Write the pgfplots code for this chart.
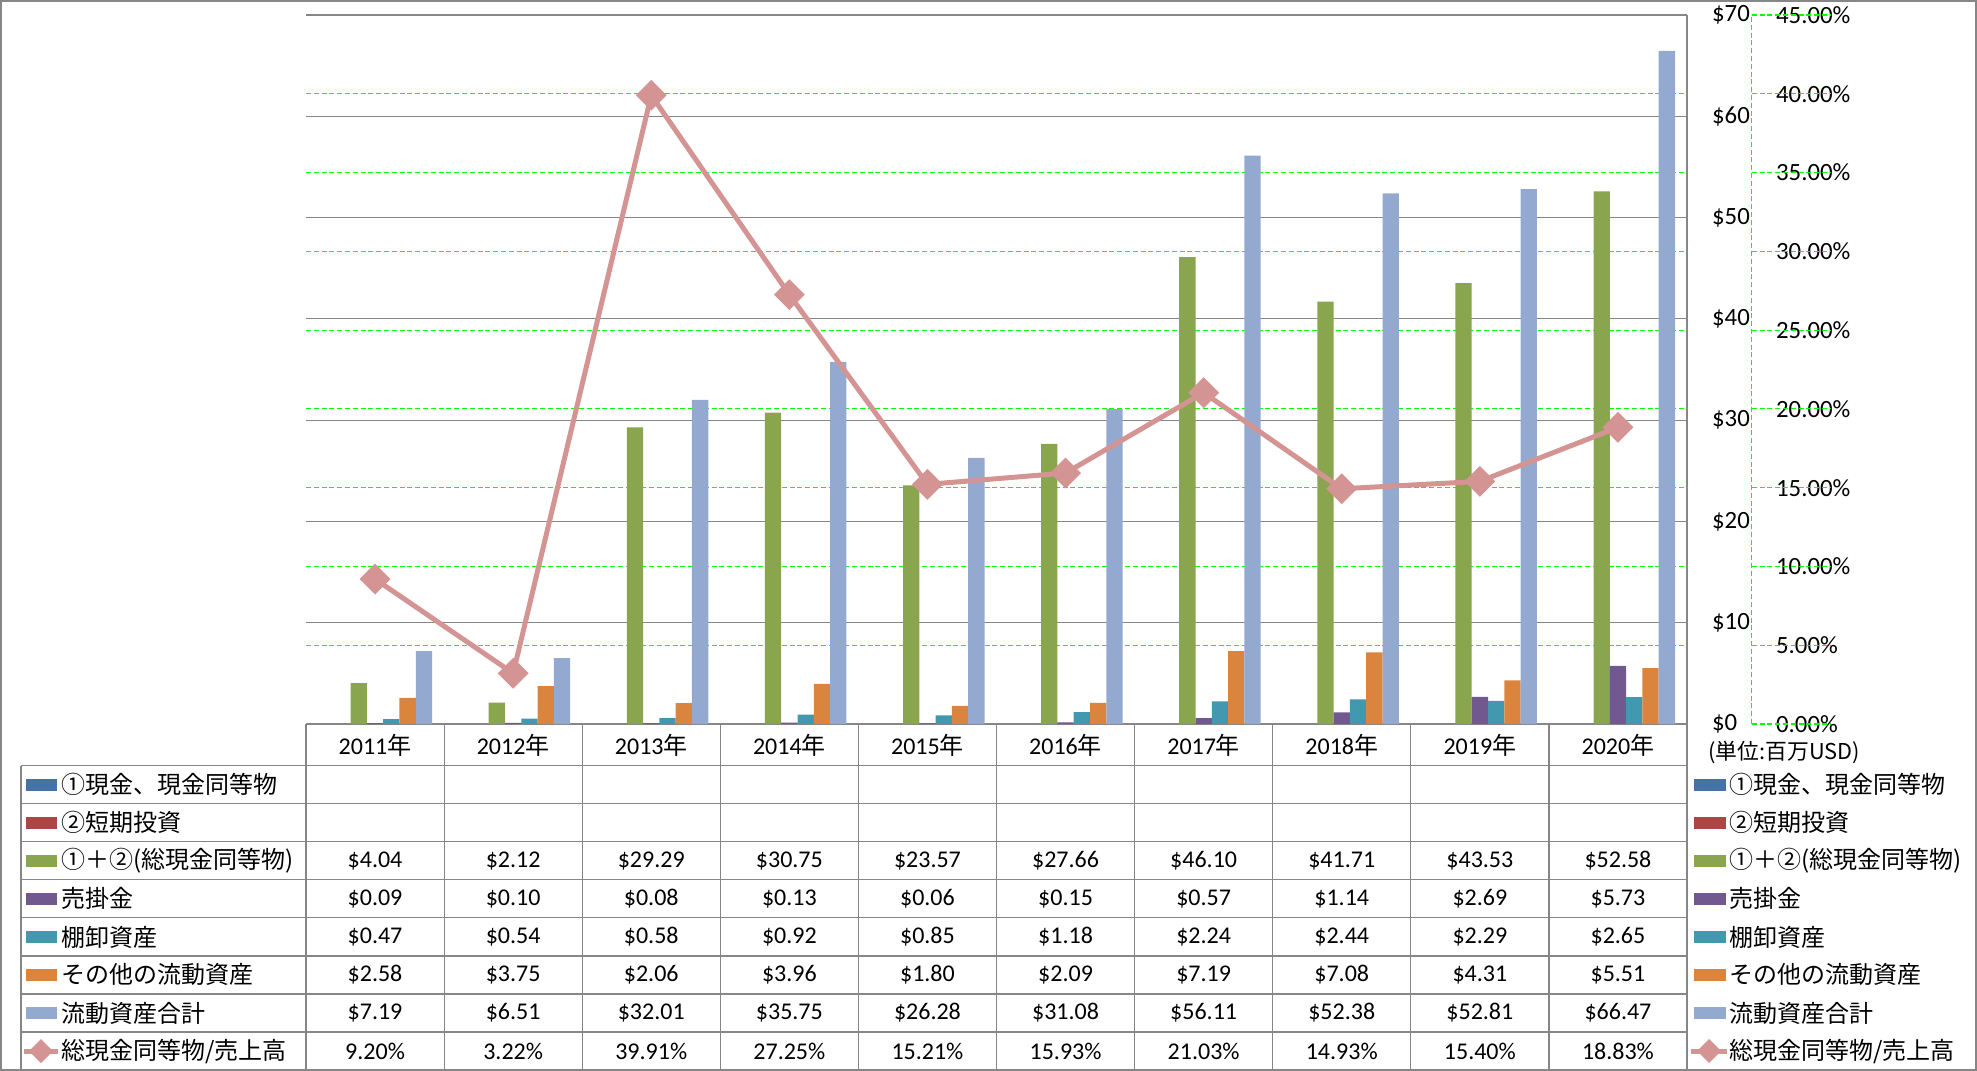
\documentclass[border=0pt]{standalone}
\usepackage{pgfplots}
\pgfplotsset{compat=1.18}
\usepackage{fontspec}
\setmainfont{Carlito}
\newfontfamily\jp{Noto Sans CJK JP}
\definecolor{cA}{HTML}{4572A7}
\definecolor{cB}{HTML}{AA4643}
\definecolor{cC}{HTML}{89A54E}
\definecolor{cD}{HTML}{71588F}
\definecolor{cE}{HTML}{4198AF}
\definecolor{cF}{HTML}{DB843D}
\definecolor{cG}{HTML}{93A9CF}
\definecolor{cL}{HTML}{D39493}
\definecolor{gridgray}{HTML}{868686}
\definecolor{dgreen}{HTML}{00FF00}
\begin{document}
\begin{tikzpicture}[font=\fontsize{12}{14}\selectfont]
% outer border
\draw[gridgray, line width=0.8pt] (0.4pt,-0.4pt) rectangle (988.1pt,-535.1pt);
\begin{axis}[
  at={(153pt,-362pt)}, anchor=south west,
  scale only axis, width=690.5pt, height=354.5pt,
  xmin=-0.5, xmax=9.5, ymin=0, ymax=70,
  axis x line*=bottom, axis y line*=right,
  axis line style={gridgray, line width=0.6pt},
  ytick={0,10,...,70}, ymajorgrids,
  major grid style={gridgray, line width=0.6pt},
  extra y ticks={7.77778,15.55556,23.33333,31.11111,38.88889,46.66667,54.44444,62.22222},
  extra y tick labels={},
  extra y tick style={grid=major, major grid style={dgreen, line width=0.6pt, dash pattern=on 2.5pt off 1.4pt}},
  yticklabel={\$\pgfmathprintnumber{\tick}},
  yticklabel style={anchor=west, inner sep=0pt, xshift=12.35pt, font=\fontsize{12.4}{14}\selectfont},
  major tick length=0pt,
  xtick={0,...,9},
  xticklabels={2011{\jp 年},2012{\jp 年},2013{\jp 年},2014{\jp 年},2015{\jp 年},2016{\jp 年},2017{\jp 年},2018{\jp 年},2019{\jp 年},2020{\jp 年}},
  xticklabel style={anchor=center, inner sep=0pt, yshift=-10.5pt, font=\fontsize{12}{14}\selectfont},
  /pgf/number format/assume math mode=true,
  bar width=0.118,
]
\addplot[ybar, fill=cC, draw=none, bar shift=-0.118] coordinates {(0,4.04) (1,2.12) (2,29.29) (3,30.75) (4,23.57) (5,27.66) (6,46.10) (7,41.71) (8,43.53) (9,52.58)};
\addplot[ybar, fill=cD, draw=none, bar shift=0] coordinates {(0,0.09) (1,0.10) (2,0.08) (3,0.13) (4,0.06) (5,0.15) (6,0.57) (7,1.14) (8,2.69) (9,5.73)};
\addplot[ybar, fill=cE, draw=none, bar shift=0.118] coordinates {(0,0.47) (1,0.54) (2,0.58) (3,0.92) (4,0.85) (5,1.18) (6,2.24) (7,2.44) (8,2.29) (9,2.65)};
\addplot[ybar, fill=cF, draw=none, bar shift=0.236] coordinates {(0,2.58) (1,3.75) (2,2.06) (3,3.96) (4,1.80) (5,2.09) (6,7.19) (7,7.08) (8,4.31) (9,5.51)};
\addplot[ybar, fill=cG, draw=none, bar shift=0.354] coordinates {(0,7.19) (1,6.51) (2,32.01) (3,35.75) (4,26.28) (5,31.08) (6,56.11) (7,52.38) (8,52.81) (9,66.47)};
\end{axis}
\begin{axis}[
  at={(153pt,-362pt)}, anchor=south west,
  scale only axis, width=690.5pt, height=354.5pt,
  xmin=-0.5, xmax=9.5, ymin=0, ymax=45,
  hide x axis, axis y line*=right, y axis line style={draw=none},
  ytick={0,5,...,45},
  yticklabel={\pgfmathprintnumber[fixed, fixed zerofill, precision=2]{\tick}\%},
  yticklabel style={anchor=west, inner sep=0pt, xshift=44.35pt, font=\fontsize{12.4}{14}\selectfont},
  major tick length=0pt,
  /pgf/number format/assume math mode=true,
  clip=false,
]
\draw[dgreen, line width=0.6pt, dash pattern=on 2.5pt off 1.4pt] ([xshift=32.35pt]rel axis cs:1,0) -- ([xshift=32.35pt]rel axis cs:1,1);
\pgfplotsinvokeforeach{0,5,10,15,20,25,30,35,40,45}{
  \draw[dgreen, line width=0.6pt, dash pattern=on 2.5pt off 1.4pt] ([xshift=32.35pt]axis cs:9.5,#1) -- ++(4.5pt,0);
}
\addplot[cL, line width=2.5pt, mark=square*, mark size=5.2pt, mark options={rotate=45, fill=cL, draw=cL, line width=0.5pt, solid}] coordinates {(0,9.20) (1,3.22) (2,39.91) (3,27.25) (4,15.21) (5,15.93) (6,21.03) (7,14.93) (8,15.40) (9,18.83)};
\end{axis}
% table lines
\draw[gridgray, line width=0.6pt] (153pt,-362pt) -- (153pt,-535pt);
\foreach \i in {1,...,9} \draw[gridgray, line width=0.6pt] ({153pt+\i*69.05pt},-362pt) -- ({153pt+\i*69.05pt},-535pt);
\draw[gridgray, line width=0.6pt] (843.5pt,-362pt) -- (843.5pt,-535pt);
\draw[gridgray, line width=0.6pt] (10.5pt,-382.85pt) -- (10.5pt,-535pt);
\foreach \k in {0,...,8} \draw[gridgray, line width=0.6pt] (10.5pt,{-382.85pt-\k*19.02pt}) -- (843.5pt,{-382.85pt-\k*19.02pt});
% unit label
\node[anchor=west, inner sep=0pt, font=\jp\fontsize{10.9}{12}\selectfont] at (854pt,-376pt) {(単位:百万USD)};
% legend keys and names (left and right)
\foreach \k/\c/\t in {0/cA/①現金、現金同等物, 1/cB/②短期投資, 2/cC/①＋②(総現金同等物), 3/cD/売掛金, 4/cE/棚卸資産, 5/cF/その他の流動資産, 6/cG/流動資産合計}{
  \fill[\c] (13pt,{-392.36pt-\k*19.02pt-2.9pt}) rectangle (28.5pt,{-392.36pt-\k*19.02pt+2.9pt});
  \node[anchor=west, inner sep=0pt, font=\jp\fontsize{12}{14}\selectfont] at (30.5pt,{-392.36pt-\k*19.02pt}) {\t};
  \fill[\c] (847pt,{-392.36pt-\k*19.02pt-2.9pt}) rectangle (863pt,{-392.36pt-\k*19.02pt+2.9pt});
  \node[anchor=west, inner sep=0pt, font=\jp\fontsize{12}{14}\selectfont] at (864.5pt,{-392.36pt-\k*19.02pt}) {\t};
}
% line legend key
\draw[cL, line width=2.5pt] (12pt,-525.5pt) -- (29pt,-525.5pt);
\fill[cL] (20.5pt,-519.5pt) -- (26.5pt,-525.5pt) -- (20.5pt,-531.5pt) -- (14.5pt,-525.5pt) -- cycle;
\node[anchor=west, inner sep=0pt, font=\jp\fontsize{12}{14}\selectfont] at (30.5pt,-525.5pt) {総現金同等物/売上高};
\draw[cL, line width=2.5pt] (845.5pt,-525.5pt) -- (863.5pt,-525.5pt);
\fill[cL] (854.5pt,-519.5pt) -- (860.5pt,-525.5pt) -- (854.5pt,-531.5pt) -- (848.5pt,-525.5pt) -- cycle;
\node[anchor=west, inner sep=0pt, font=\jp\fontsize{12}{14}\selectfont] at (864.5pt,-525.5pt) {総現金同等物/売上高};
% table values
\foreach \v [count=\i from 0] in {\$4.04,\$2.12,\$29.29,\$30.75,\$23.57,\$27.66,\$46.10,\$41.71,\$43.53,\$52.58}
  \node at ({153pt+(\i+0.5)*69.05pt},-430.4pt) {\v};
\foreach \v [count=\i from 0] in {\$0.09,\$0.10,\$0.08,\$0.13,\$0.06,\$0.15,\$0.57,\$1.14,\$2.69,\$5.73}
  \node at ({153pt+(\i+0.5)*69.05pt},-449.42pt) {\v};
\foreach \v [count=\i from 0] in {\$0.47,\$0.54,\$0.58,\$0.92,\$0.85,\$1.18,\$2.24,\$2.44,\$2.29,\$2.65}
  \node at ({153pt+(\i+0.5)*69.05pt},-468.44pt) {\v};
\foreach \v [count=\i from 0] in {\$2.58,\$3.75,\$2.06,\$3.96,\$1.80,\$2.09,\$7.19,\$7.08,\$4.31,\$5.51}
  \node at ({153pt+(\i+0.5)*69.05pt},-487.46pt) {\v};
\foreach \v [count=\i from 0] in {\$7.19,\$6.51,\$32.01,\$35.75,\$26.28,\$31.08,\$56.11,\$52.38,\$52.81,\$66.47}
  \node at ({153pt+(\i+0.5)*69.05pt},-506.48pt) {\v};
\foreach \v [count=\i from 0] in {9.20\%,3.22\%,39.91\%,27.25\%,15.21\%,15.93\%,21.03\%,14.93\%,15.40\%,18.83\%}
  \node at ({153pt+(\i+0.5)*69.05pt},-525.5pt) {\v};
\end{tikzpicture}
\end{document}
